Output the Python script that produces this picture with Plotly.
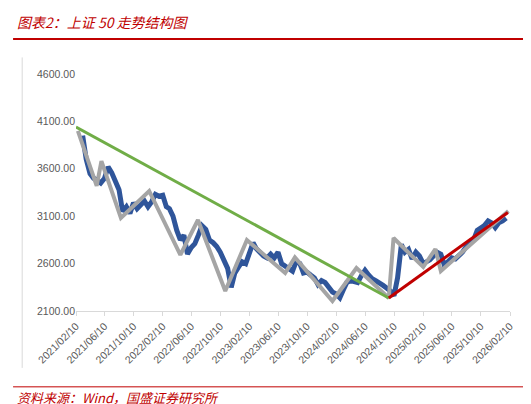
import pandas as pd
import plotly.graph_objects as go

# semi-monthly readings of the index (10th and 25th of each month)
index_dates = pd.date_range("2021-02-10", "2026-01-25", freq="MS")
index_dates = [d for m in index_dates for d in (m + pd.Timedelta(days=9), m + pd.Timedelta(days=24))]
index_values = [
    3950, 3700, 3550, 3500, 3480, 3450, 3500, 3620, 3560, 3480, 3380, 3150,
    3200, 3130, 3240, 3180, 3230, 3260, 3200, 3250, 3330, 3310,
    3320, 3200, 3180, 3100, 2950, 2850, 2900, 2700, 2770, 2810, 2900, 3000,
    2960, 2850, 2820, 2780, 2720, 2620, 2550, 2350, 2500, 2560, 2620, 2600,
    2700, 2820, 2760, 2720, 2680, 2660, 2700, 2660, 2720, 2600, 2570, 2540,
    2520, 2620, 2600, 2500, 2510, 2480, 2450, 2380, 2420, 2400, 2340, 2300,
    2280, 2240, 2320, 2400, 2420, 2410, 2400, 2470, 2530, 2480, 2440, 2420,
    2400, 2370, 2340, 2310, 2260, 2450, 2800, 2720, 2750, 2650, 2720, 2680,
    2600, 2620, 2640, 2680, 2720, 2700, 2580, 2620, 2660, 2650, 2680, 2720,
    2780, 2820, 2850, 2950, 2980, 3000, 3050, 3030, 2980, 3030, 3050, 3080,
    3100, 3060,
]

swing_dates = ["2021-02-18", "2021-05-08", "2021-05-28", "2021-08-18", "2021-12-15",
               "2022-04-25", "2022-07-08", "2022-10-31", "2023-01-30", "2023-07-10",
               "2023-08-20", "2024-01-25", "2024-05-05", "2024-09-18", "2024-10-08",
               "2025-02-10", "2025-04-02", "2025-04-25", "2026-02-03"]
swing_values = [3999, 3419, 3682, 3081, 3366, 2691, 3060, 2311, 2849, 2501,
                2665, 2205, 2553, 2237, 2870, 2564, 2754, 2522, 3155]

down_dates = ["2021-02-10", "2024-09-18"]
down_values = [4041, 2237]
up_dates = ["2024-09-18", "2026-02-01"]
up_values = [2237, 3140]

tick_dates = ["2021-02-10", "2021-06-10", "2021-10-10", "2022-02-10", "2022-06-10",
              "2022-10-10", "2023-02-10", "2023-06-10", "2023-10-10", "2024-02-10",
              "2024-06-10", "2024-10-10", "2025-02-10", "2025-06-10", "2025-10-10",
              "2026-02-10"]
tick_labels = [d.replace("-", "/") for d in tick_dates]
y_ticks = [2100, 2600, 3100, 3600, 4100, 4600]

RED = "#C00000"

fig = go.Figure()
fig.add_trace(go.Scatter(x=index_dates, y=index_values, mode="lines",
                         line=dict(color="#2F559A", width=5)))
fig.add_trace(go.Scatter(x=swing_dates, y=swing_values, mode="lines",
                         line=dict(color="#A5A5A5", width=4)))
fig.add_trace(go.Scatter(x=down_dates, y=down_values, mode="lines",
                         line=dict(color="#70AD47", width=3)))
fig.add_trace(go.Scatter(x=up_dates, y=up_values, mode="lines",
                         line=dict(color=RED, width=3)))

fig.update_layout(
    width=531, height=404,
    margin=dict(l=68, r=29, t=66, b=101, autoexpand=False),
    paper_bgcolor="white", plot_bgcolor="white",
    showlegend=False,
    font=dict(family="Liberation Sans, Arial", color="#595959", size=10.5),
    xaxis=dict(type="date", range=["2021-02-10", "2026-02-10"], automargin=False,
               tickvals=tick_dates, ticktext=tick_labels, tickangle=-45,
               showgrid=False, showline=True, linecolor="#D9D9D9", linewidth=1,
               ticks="outside", ticklen=4, tickcolor="#D9D9D9"),
    yaxis=dict(range=[2100, 4600], tickvals=y_ticks, automargin=False,
               ticktext=[f"{v:.2f}" for v in y_ticks],
               showgrid=False, zeroline=False, showline=False, ticks=""),
    shapes=[
        dict(type="line", xref="paper", yref="paper", x0=-0.124, x1=-0.124,
             y0=1.07, y1=-0.24, line=dict(color="#D9D9D9", width=1)),
        dict(type="line", xref="paper", yref="paper", x0=-0.145, x1=1.035,
             y0=1.148, y1=1.148, line=dict(color=RED, width=2)),
        dict(type="line", xref="paper", yref="paper", x0=-0.145, x1=1.035,
             y0=-0.32, y1=-0.32, line=dict(color=RED, width=1)),
    ],
    annotations=[
        dict(text="<i>图表2：上证 50 走势结构图</i>", xref="paper", yref="paper",
             x=-0.14, y=1.22, xanchor="left", yanchor="middle", showarrow=False,
             font=dict(family="Noto Sans CJK SC", size=14, color=RED)),
        dict(text="<i>资料来源：Wind，国盛证券研究所</i>", xref="paper", yref="paper",
             x=-0.14, y=-0.365, xanchor="left", yanchor="middle", showarrow=False,
             font=dict(family="Noto Sans CJK SC", size=13, color=RED)),
    ],
)

fig.write_html("out.html")
